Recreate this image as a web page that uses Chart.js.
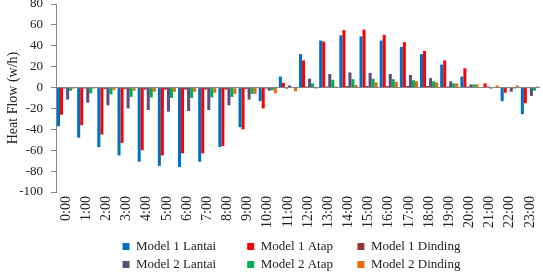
<!DOCTYPE html>
<html>
<head>
<meta charset="utf-8">
<script src="https://cdn.jsdelivr.net/npm/chart.js@4/dist/chart.umd.min.js"></script>
<style>
  html, body { margin: 0; padding: 0; background: #fff; }
</style>
</head>
<body>
<canvas id="heatChart" width="543" height="275"></canvas>
<script>
const hours = [];
for (let i = 0; i <= 23; i++) {
  hours.push(`${i}:00`);
}

const seriesNames = [
  "Model 1 Lantai", "Model 1 Atap", "Model 1 Dinding",
  "Model 2 Lantai", "Model 2 Atap", "Model 2 Dinding"
];

const model1Lantai = [-37, -48, -57, -65, -71, -75, -76, -71, -57, -38, -13, 10.5, 32, 45, 50, 49, 45, 39, 32, 22, 10.5, -0.5, -13, -25.5];
const model1Atap = [-26, -36, -45, -53, -60, -65, -63, -63, -56, -40, -20, 4.5, 26, 44, 55, 55.5, 50.5, 43.5, 35, 26, 18.5, 4, -5, -15];
const model1Dinding = [-1, -1, -1.5, -1.5, -2, -2, -2, -2, -2, -1.5, -1, -1, 1, 1, 1.5, 1.5, 1.5, 1.5, 1.5, 1, 1, 1, 0.5, 0.5];
const model2Lantai = [-11.5, -14.5, -17, -20, -21.5, -23, -22.5, -21.5, -17, -11.5, -3, 2, 8.5, 13, 14.5, 14, 13, 12, 9, 6, 3, -1, -4, -8];
const model2Atap = [-3, -5.5, -6.5, -9, -9.5, -10, -10, -9.5, -9, -6, -2.5, 0.5, 4, 7.5, 8, 8.5, 8, 7, 6, 4, 3, 0.5, -1, -3];
const model2Dinding = [-1, -1, -2.5, -3, -4, -4, -4, -5, -6, -6, -5.5, -3.5, -1, 1, 2.5, 5, 5.5, 6, 5, 4, 3, 2, 2, 1];

const yTicks = [-100, -80, -60, -40, -20, 0, 20, 40, 60, 80];

const colors = ["#0070C0", "#FF0000", "#953735", "#604A7B", "#00B050", "#E46C0A"];
const serif = "'Liberation Serif', 'Times New Roman', serif";
const axisGray = "#868686";

// trailing spaces give the legend its fixed column widths (3 per row)
const legendSpaces = [8, 6, 4, 8, 6, 4];

const allSeries = [model1Lantai, model1Atap, model1Dinding, model2Lantai, model2Atap, model2Dinding];

const heatData = {
  labels: hours,
  datasets: allSeries.map((values, i) => ({
    label: seriesNames[i],
    data: values,
    backgroundColor: colors[i],
    borderWidth: 0,
    categoryPercentage: 0.9,
    barPercentage: 1.0,
  })),
};

const heatConfig = {
  type: "bar",
  data: heatData,
  options: {
    responsive: false,
    animation: false,
    devicePixelRatio: 1,
    layout: { padding: { top: 4, right: 3, left: 0, bottom: 0 } },
    plugins: {
      tooltip: { enabled: false },
      legend: {
        position: "bottom",
        fullSize: false,
        maxHeight: 40,
        labels: {
          boxWidth: 7,
          boxHeight: 7,
          padding: 5,
          color: "#222",
          font: { family: serif, size: 13 },
          generateLabels: (chart) => {
            const items = Chart.defaults.plugins.legend.labels.generateLabels(chart);
            items.forEach((item, i) => {
              item.text = item.text + " ".repeat(legendSpaces[i]);
              item.lineWidth = 0;
            });
            return items;
          },
        },
      },
    },
    scales: {
      x: {
        grid: { display: false, drawTicks: false },
        border: { display: false },
        ticks: {
          autoSkip: false,
          maxRotation: 90,
          minRotation: 90,
          padding: 4,
          color: "#222",
          font: { family: serif, size: 14 },
        },
        afterFit: (scale) => {
          scale.height = 43;
          scale.paddingLeft = 0;
          scale.paddingRight = 0;
        },
      },
      y: {
        min: -100,
        max: 80,
        afterBuildTicks: (scale) => {
          scale.ticks = yTicks.map((v) => ({ value: v }));
        },
        grid: {
          drawOnChartArea: true,
          color: (ctx) => (ctx.tick && ctx.tick.value === 0 ? axisGray : "rgba(0,0,0,0)"),
          tickColor: axisGray,
          tickLength: 5,
        },
        border: { display: true, color: axisGray },
        ticks: {
          padding: 8,
          color: "#222",
          font: { family: serif, size: 13 },
        },
        title: {
          display: true,
          text: "Heat Flow (w/h)",
          color: "#222",
          padding: { top: 5, bottom: 0 },
          font: { family: serif, size: 14 },
        },
        afterFit: (scale) => {
          scale.width = 56;
          scale.paddingTop = 0;
          scale.paddingBottom = 0;
        },
      },
    },
  },
};

const heatChart = new Chart(document.getElementById("heatChart"), heatConfig);
</script>
</body>
</html>
